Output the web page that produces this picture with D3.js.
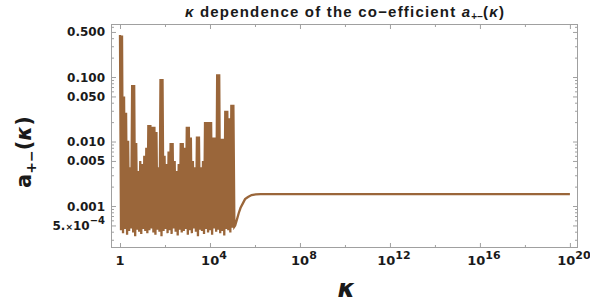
<!DOCTYPE html>
<html>
<head>
<meta charset="utf-8">
<script src="https://cdn.jsdelivr.net/npm/d3@7"></script>
<style>
  body { margin: 0; background: #fff; }
  text { font-family: "DejaVu Sans", sans-serif; font-weight: bold; fill: #1a1a1a; }
</style>
</head>
<body>
<div id="chart"></div>
<script>
// spikes of the oscillating part (log10 kappa, value)
const peakExp = [0.00, 0.09, 0.18, 0.27, 0.36, 0.45, 0.54, 0.63, 0.72, 0.81, 0.90, 0.99, 1.08, 1.17, 1.26,
  1.35, 1.44, 1.53, 1.62, 1.71, 1.80, 1.89, 1.98, 2.07, 2.16, 2.25, 2.34, 2.43, 2.52, 2.61, 2.70, 2.79,
  2.88, 2.97, 3.06, 3.15, 3.24, 3.33, 3.42, 3.51, 3.60, 3.69, 3.78, 3.87, 3.96, 4.05, 4.14, 4.23, 4.32,
  4.41, 4.50, 4.59, 4.68, 4.77, 4.86, 4.95, 5.04];
const peakA = [0.45, 0.44, 0.05, 0.028, 0.0103, 0.004, 0.075, 0.075, 0.0095, 0.0035, 0.005, 0.0045, 0.006,
  0.008, 0.018, 0.018, 0.017, 0.017, 0.014, 0.004, 0.093, 0.093, 0.006, 0.0045, 0.007, 0.0095, 0.0095,
  0.005, 0.0035, 0.0045, 0.0095, 0.0095, 0.008, 0.017, 0.017, 0.0115, 0.005, 0.004, 0.012, 0.012, 0.004,
  0.005, 0.02, 0.02, 0.02, 0.02, 0.0115, 0.0115, 0.11, 0.11, 0.011, 0.011, 0.03, 0.03, 0.023, 0.037, 0.037];
const troughExp = [0.045, 0.135, 0.225, 0.315, 0.405, 0.495, 0.585, 0.675, 0.765, 0.855, 0.945, 1.035,
  1.125, 1.215, 1.305, 1.395, 1.485, 1.575, 1.665, 1.755, 1.845, 1.935, 2.025, 2.115, 2.205, 2.295, 2.385,
  2.475, 2.565, 2.655, 2.745, 2.835, 2.925, 3.015, 3.105, 3.195, 3.285, 3.375, 3.465, 3.555, 3.645, 3.735,
  3.825, 3.915, 4.005, 4.095, 4.185, 4.275, 4.365, 4.455, 4.545, 4.635, 4.725, 4.815, 4.905, 4.995, 5.085];
const troughA = [0.00042, 0.00038, 0.00044, 0.00036, 0.00041, 0.00045, 0.00039, 0.00034, 0.00043, 0.00040,
  0.00037, 0.00044, 0.00041, 0.00038, 0.00042, 0.00045, 0.00039, 0.00036, 0.00043, 0.00040,
  0.00034, 0.00041, 0.00044, 0.00038, 0.00042, 0.00037, 0.00045, 0.00040, 0.00035, 0.00043,
  0.00039, 0.00041, 0.00044, 0.00036, 0.00042, 0.00038, 0.00045, 0.00040, 0.00034, 0.00043,
  0.00041, 0.00037, 0.00044, 0.00039, 0.00042, 0.00036, 0.00045, 0.00040, 0.00043, 0.00038,
  0.00041, 0.00035, 0.00044, 0.00042, 0.00039, 0.00046, 0.00048];
// smooth part
const tailExp = [5.12, 5.20, 5.28, 5.36, 5.45, 5.56, 5.69, 5.85, 6.04, 6.25, 6.5, 7.0, 20.0];
const tailA = [0.00050, 0.00062, 0.00078, 0.00094, 0.00108, 0.00128, 0.00138, 0.00148, 0.00152, 0.00153,
  0.00153, 0.00153, 0.00153];

const xMajor = [1, 1e4, 1e8, 1e12, 1e16, 1e20];
const xMajorExp = ["", "4", "8", "12", "16", "20"];
const xMinor = [1e2, 1e6, 1e10, 1e14, 1e18];
const yMajor = [0.5, 0.1, 0.05, 0.01, 0.005, 0.001, 0.0005];
const yLabels = ["0.500", "0.100", "0.050", "0.010", "0.005", "0.001", "5.×10"];

const width = 590, height = 304;
const margin = { top: 24, right: 12, bottom: 56, left: 111 };
const color = "#9a663a";

const svg = d3.select("#chart").append("svg")
  .attr("width", width)
  .attr("height", height);

const x = d3.scaleLog().domain([Math.pow(10, -0.4), Math.pow(10, 20.36)]).range([margin.left, width - margin.right]);
const y = d3.scaleLog().domain([0.0002235, 0.664]).range([height - margin.bottom, margin.top]);

const points = [];
peakExp.forEach((e, i) => {
  points.push([Math.pow(10, e), peakA[i]]);
  points.push([Math.pow(10, troughExp[i]), troughA[i]]);
});
tailExp.forEach((e, i) => points.push([Math.pow(10, e), tailA[i]]));

svg.append("clipPath").attr("id", "clip")
  .append("rect")
  .attr("x", margin.left).attr("y", margin.top)
  .attr("width", width - margin.left - margin.right)
  .attr("height", height - margin.top - margin.bottom);

svg.append("path")
  .datum(points)
  .attr("clip-path", "url(#clip)")
  .attr("fill", "none")
  .attr("stroke", color)
  .attr("stroke-width", 2.3)
  .attr("stroke-linejoin", "miter")
  .attr("d", d3.line().x(d => x(d[0])).y(d => y(d[1])));

// frame
svg.append("rect")
  .attr("x", margin.left + 0.5).attr("y", margin.top + 0.5)
  .attr("width", width - margin.left - margin.right - 1)
  .attr("height", height - margin.top - margin.bottom - 1)
  .attr("fill", "none").attr("stroke", "#a0a0a0").attr("stroke-width", 1);

function tickStyle(g) {
  g.select(".domain").remove();
  g.selectAll(".tick line").attr("stroke", "#a0a0a0");
  g.selectAll(".tick text").remove();
}

const yMinor = y.ticks().filter(v => !yMajor.some(m => Math.abs(m - v) / m < 1e-6));
const bottom = height - margin.bottom, right = width - margin.right;

svg.append("g").attr("transform", `translate(0,${bottom})`)
  .call(d3.axisBottom(x).tickValues(xMajor).tickSize(-5)).call(tickStyle);
svg.append("g").attr("transform", `translate(0,${bottom})`)
  .call(d3.axisBottom(x).tickValues(xMinor).tickSize(-3)).call(tickStyle);
svg.append("g").attr("transform", `translate(0,${margin.top})`)
  .call(d3.axisTop(x).tickValues(xMajor).tickSize(-5)).call(tickStyle);
svg.append("g").attr("transform", `translate(0,${margin.top})`)
  .call(d3.axisTop(x).tickValues(xMinor).tickSize(-3)).call(tickStyle);
svg.append("g").attr("transform", `translate(${margin.left},0)`)
  .call(d3.axisLeft(y).tickValues(yMajor).tickSize(-5)).call(tickStyle);
svg.append("g").attr("transform", `translate(${margin.left},0)`)
  .call(d3.axisLeft(y).tickValues(yMinor).tickSize(-3)).call(tickStyle);
svg.append("g").attr("transform", `translate(${right},0)`)
  .call(d3.axisRight(y).tickValues(yMajor).tickSize(-5)).call(tickStyle);
svg.append("g").attr("transform", `translate(${right},0)`)
  .call(d3.axisRight(y).tickValues(yMinor).tickSize(-3)).call(tickStyle);

// x tick labels
xMajor.forEach((v, i) => {
  const t = svg.append("text")
    .attr("x", x(v) + (i === 0 ? 0 : 4))
    .attr("y", bottom + 17)
    .attr("text-anchor", "middle")
    .style("font-size", "13px");
  if (i === 0) {
    t.text("1");
  } else {
    t.append("tspan").text("10");
    t.append("tspan").attr("dy", -6).style("font-size", "11px").text(xMajorExp[i]);
  }
});

// y tick labels
yMajor.forEach((v, i) => {
  const t = svg.append("text")
    .attr("x", margin.left - 6)
    .attr("y", y(v) + 4.5)
    .attr("text-anchor", "end")
    .style("font-size", "12px");
  if (i === yMajor.length - 1) {
    t.append("tspan").text("5.");
    t.append("tspan").style("font-size", "9px").text("×");
    t.append("tspan").text("10");
    t.append("tspan").attr("dy", -6).style("font-size", "10px").text("−4");
  } else {
    t.text(yLabels[i]);
  }
});

// title
const title = svg.append("text")
  .attr("x", 345)
  .attr("y", 17)
  .attr("text-anchor", "middle")
  .style("font-family", "'Liberation Sans', Arial, sans-serif")
  .style("font-size", "15px")
  .style("letter-spacing", "1.2px");
title.append("tspan").style("font-style", "italic").text("κ");
title.append("tspan").text(" dependence of the co−efficient ");
title.append("tspan").style("font-style", "italic").text("a");
title.append("tspan").attr("dy", 3).style("font-size", "10px").style("letter-spacing", "0px").text("+−");
title.append("tspan").attr("dy", -3).text("(");
title.append("tspan").style("font-style", "italic").text("κ");
title.append("tspan").text(")");

// axis labels
svg.append("text")
  .attr("x", (margin.left + right) / 2 + 2)
  .attr("y", 297)
  .attr("text-anchor", "middle")
  .style("font-size", "25px")
  .style("font-style", "italic")
  .text("κ");

const yl = svg.append("text")
  .attr("transform", `translate(31,${(margin.top + bottom) / 2 + 16}) rotate(-90)`)
  .attr("text-anchor", "middle")
  .style("font-size", "21px");
yl.append("tspan").text("a");
yl.append("tspan").attr("dy", 5).style("font-size", "14px").text("+−");
yl.append("tspan").attr("dy", -5).text("(");
yl.append("tspan").style("font-style", "italic").text("κ");
yl.append("tspan").text(")");
</script>
</body>
</html>
